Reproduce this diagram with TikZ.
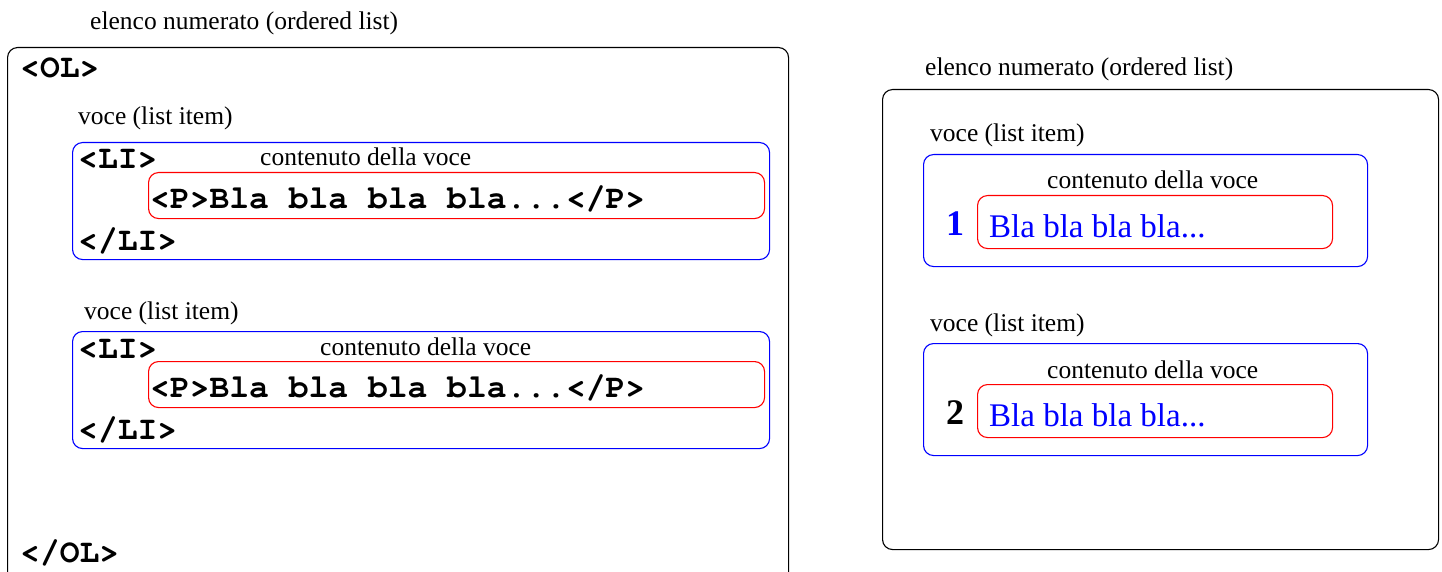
\documentclass[tikz,border=0pt]{standalone}
\usepackage{fontspec}
\setmainfont{Liberation Serif}
\newfontfamily\codefont{TeX Gyre Cursor}
\begin{document}
\begin{tikzpicture}[x=1pt,y=-1pt,
  outerbox/.style={draw=black,line width=1.1pt,rounded corners=10pt,anchor=north west,inner sep=0pt},
  itembox/.style={draw=blue,line width=1.1pt,rounded corners=10pt,anchor=north west,inner sep=0pt},
  contbox/.style={draw=red,line width=1.1pt,rounded corners=10pt,anchor=north west,inner sep=0pt},
  lbl/.style={anchor=base west,inner sep=0pt,font=\fontsize{25.5}{30}\selectfont},
  code/.style={anchor=base west,inner sep=0pt,font=\codefont\bfseries\fontsize{33}{38}\selectfont},
  bla/.style={anchor=base west,inner sep=0pt,text=blue,font=\fontsize{33}{38}\selectfont},
  num/.style={anchor=base west,inner sep=0pt,font=\bfseries\fontsize{36}{40}\selectfont}]
\useasboundingbox (0,0) rectangle (1442,572);
% ---------- left ----------
\node[lbl] (t1) at (90,30) {elenco numerato (ordered list)};
\node[outerbox,minimum width=781pt,minimum height=540pt] (ol) at (7,47) {};
\node[code] (olo) at (20,78) {<OL>};
\node[code] (olc) at (20,562) {</OL>};
% item 1
\node[lbl] (v1) at (78,125) {voce (list item)};
\node[itembox,minimum width=697pt,minimum height=117pt] (li1) at (72,142) {};
\node[code] (li1o) at (78,169) {<LI>};
\node[lbl] (c1) at (260,166) {contenuto della voce};
\node[contbox,minimum width=616pt,minimum height=46pt] (p1) at (148,172) {};
\node[code] (p1t) at (150,208) {<P>Bla bla bla bla...</P>};
\node[code] (li1c) at (78,250) {</LI>};
% item 2
\node[lbl] (v2) at (84,319) {voce (list item)};
\node[itembox,minimum width=697pt,minimum height=117pt] (li2) at (72,331) {};
\node[code] (li2o) at (78,358) {<LI>};
\node[lbl] (c2) at (320,355) {contenuto della voce};
\node[contbox,minimum width=616pt,minimum height=46pt] (p2) at (148,361) {};
\node[code] (p2t) at (150,397) {<P>Bla bla bla bla...</P>};
\node[code] (li2c) at (78,439) {</LI>};
% ---------- right ----------
\node[lbl] (t2) at (925,76) {elenco numerato (ordered list)};
\node[outerbox,minimum width=556pt,minimum height=460pt] (olr) at (882,89) {};
% item 1
\node[lbl] (rv1) at (930,142) {voce (list item)};
\node[itembox,minimum width=444pt,minimum height=112pt] (rli1) at (923,154) {};
\node[lbl] (rc1) at (1047,189) {contenuto della voce};
\node[contbox,minimum width=355pt,minimum height=53pt] (rp1) at (977,195) {};
\node[num,text=blue] (n1) at (946,235) {1};
\node[bla] (rb1) at (989,237) {Bla bla bla bla...};
% item 2
\node[lbl] (rv2) at (930,331) {voce (list item)};
\node[itembox,minimum width=444pt,minimum height=112pt] (rli2) at (923,343) {};
\node[lbl] (rc2) at (1047,378) {contenuto della voce};
\node[contbox,minimum width=355pt,minimum height=53pt] (rp2) at (977,384) {};
\node[num] (n2) at (946,424) {2};
\node[bla] (rb2) at (989,426) {Bla bla bla bla...};
\end{tikzpicture}
\end{document}
